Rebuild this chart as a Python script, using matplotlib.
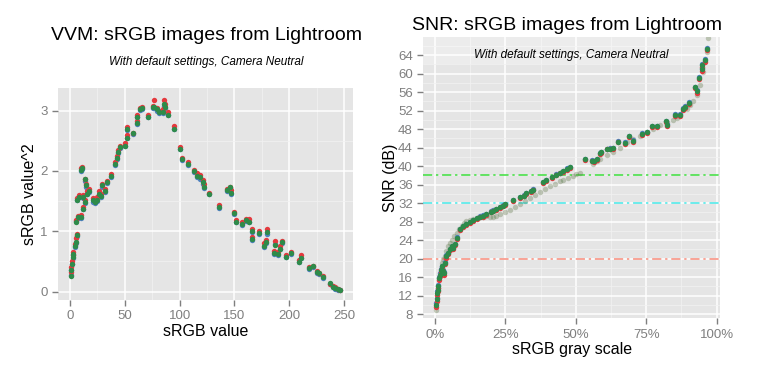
import matplotlib
matplotlib.use("Agg")
import matplotlib.pyplot as plt
from matplotlib.ticker import FuncFormatter, MultipleLocator

plt.rcParams["font.family"] = ["Liberation Sans", "DejaVu Sans"]

# ---- left panel: VVM vs sRGB value ----
vvm_x = [0.6, 0.9, 1.5, 2.4, 3, 4.6, 5.5, 6.1, 5.5, 7.6,
         9.7, 6.7, 8.2, 9.7, 11, 11.6, 12.2, 13.4, 14, 14.6,
         15.8, 17, 20.7, 22.8, 25, 26, 28, 29, 31.7, 34,
         37, 41, 42.6, 43.8, 46, 50, 51.8, 52.4, 57, 61,
         61, 64, 65.8, 71, 75.5, 76.4, 79, 80.7, 84.7, 85.3,
         86.5, 89, 94.4, 99.9, 102, 108, 113, 116, 118.8, 121,
         121.8, 127, 135.8, 143, 145.6, 146.8, 149.8, 151.6, 157, 160.8,
         163, 166, 166.3, 172, 176.6, 178.7, 179.7, 186.4, 187.3, 189.4,
         191.8, 193.4, 196.7, 201.6, 209, 210.7, 217.7, 221.7, 225.3, 227.5,
         230.5, 237, 240, 241.5, 244, 246.6]
vvm_red = [0.33, 0.40, 0.50, 0.60, 0.66, 0.78, 0.88, 0.95, 1.19, 1.26,
           1.27, 1.55, 1.60, 2.04, 2.07, 1.60, 1.40, 1.52, 1.87, 1.79,
           1.66, 1.70, 1.55, 1.53, 1.56, 1.66, 1.62, 1.79, 1.70, 1.84,
           1.95, 2.15, 2.25, 2.35, 2.41, 2.46, 2.60, 2.73, 2.63, 2.83,
           2.92, 3.04, 3.06, 2.92, 3.08, 3.17, 3.05, 3.00, 3.02, 3.18,
           3.10, 2.97, 2.75, 2.40, 2.22, 2.14, 2.01, 1.96, 1.93, 1.85,
           1.78, 1.63, 1.43, 1.70, 1.74, 1.68, 1.32, 1.18, 1.15, 1.21,
           1.20, 1.04, 0.91, 1.00, 0.80, 0.85, 1.04, 0.68, 0.83, 0.65,
           0.76, 0.83, 0.60, 0.66, 0.52, 0.61, 0.41, 0.43, 0.34, 0.31,
           0.25, 0.13, 0.10, 0.08, 0.05, 0.03]
vvm_green = [0.25, 0.35, 0.46, 0.57, 0.62, 0.75, 0.82, 0.93, 1.15, 1.23,
             1.24, 1.51, 1.57, 2.01, 2.05, 1.56, 1.37, 1.48, 1.86, 1.76,
             1.62, 1.67, 1.51, 1.49, 1.52, 1.62, 1.59, 1.76, 1.67, 1.81,
             1.92, 2.11, 2.22, 2.32, 2.39, 2.42, 2.55, 2.69, 2.62, 2.79,
             2.90, 3.02, 3.04, 2.90, 3.06, 3.06, 3.02, 2.97, 2.97, 3.10,
             3.06, 2.93, 2.70, 2.36, 2.19, 2.11, 1.99, 1.92, 1.89, 1.81,
             1.74, 1.62, 1.40, 1.68, 1.73, 1.63, 1.30, 1.16, 1.12, 1.18,
             1.16, 1.01, 0.87, 0.97, 0.76, 0.82, 0.98, 0.64, 0.77, 0.62,
             0.71, 0.82, 0.58, 0.64, 0.49, 0.56, 0.39, 0.42, 0.32, 0.30,
             0.24, 0.14, 0.08, 0.06, 0.04, 0.02]
vvm_blue = [0.27, 0.36, 0.45, 0.56, 0.61, 0.73, 0.81, 0.92, 1.17, 1.22,
            1.22, 1.52, 1.56, 2.00, 2.03, 1.55, 1.36, 1.47, 1.84, 1.74,
            1.61, 1.65, 1.48, 1.47, 1.50, 1.60, 1.57, 1.74, 1.65, 1.80,
            1.90, 2.10, 2.20, 2.30, 2.38, 2.41, 2.54, 2.67, 2.61, 2.78,
            2.89, 3.01, 3.03, 2.89, 3.04, 3.05, 3.00, 2.96, 2.96, 3.08,
            3.04, 2.92, 2.69, 2.36, 2.18, 2.10, 1.98, 1.90, 1.87, 1.79,
            1.72, 1.61, 1.39, 1.67, 1.71, 1.61, 1.29, 1.15, 1.11, 1.17,
            1.15, 0.99, 0.86, 0.96, 0.74, 0.81, 0.96, 0.63, 0.78, 0.61,
            0.70, 0.81, 0.57, 0.63, 0.49, 0.55, 0.38, 0.41, 0.31, 0.29,
            0.23, 0.12, 0.08, 0.05, 0.03, 0.02]

# ---- right panel: SNR vs gray scale ----
snr_x = [0.004, 0.006, 0.008, 0.010, 0.012, 0.015, 0.018, 0.020, 0.024, 0.027,
         0.030, 0.033, 0.036, 0.041, 0.047, 0.053, 0.059, 0.065, 0.071, 0.079,
         0.089, 0.100, 0.112, 0.125, 0.136, 0.150, 0.160, 0.172, 0.183, 0.200,
         0.207, 0.218, 0.230, 0.240, 0.249, 0.278, 0.302, 0.315, 0.325, 0.340,
         0.349, 0.385, 0.395, 0.414, 0.430, 0.444, 0.455, 0.467, 0.479, 0.533,
         0.556, 0.566, 0.576, 0.586, 0.590, 0.610, 0.620, 0.633, 0.651, 0.675,
         0.690, 0.704, 0.734, 0.751, 0.769, 0.789, 0.820, 0.825, 0.852, 0.870,
         0.879, 0.888, 0.903, 0.923, 0.929, 0.938, 0.947, 0.947, 0.959, 0.964]
snr_green = [10.0, 11.2, 12.6, 13.3, 14.0, 15.8, 16.5, 17.6, 18.3, 17.0,
             17.3, 16.8, 19.1, 20.5, 21.2, 22.0, 22.7, 22.3, 23.1, 24.5,
             26.3, 27.0, 27.4, 27.9, 28.3, 28.7, 29.1, 29.3, 29.6, 30.1,
             30.4, 30.7, 31.1, 31.4, 31.8, 32.6, 33.3, 33.6, 34.1, 34.6,
             34.9, 36.5, 36.9, 37.6, 38.1, 38.5, 38.9, 39.4, 39.7, 41.5,
             41.2, 41.0, 41.5, 42.8, 43.0, 43.7, 43.8, 43.9, 45.3, 45.0,
             46.5, 45.5, 47.0, 47.3, 48.6, 48.6, 49.7, 48.9, 51.1, 51.1,
             52.4, 52.8, 53.7, 57.1, 56.2, 59.1, 61.0, 61.8, 62.9, 65.4]
snr_red = [9.6, 10.8, 12.2, 13.0, 13.6, 15.3, 16.2, 17.2, 18.0, 16.6,
           17.0, 16.4, 18.8, 20.1, 21.0, 21.8, 22.5, 22.0, 22.9, 24.3,
           26.1, 26.8, 27.2, 27.7, 28.1, 28.5, 28.9, 29.1, 29.4, 30.0,
           30.3, 30.6, 31.0, 31.3, 31.6, 32.5, 33.1, 33.5, 34.0, 34.5,
           34.8, 36.4, 36.8, 37.5, 38.0, 38.4, 38.8, 39.2, 39.5, 41.4,
           41.1, 40.9, 41.3, 42.6, 42.9, 43.6, 43.7, 43.8, 45.1, 44.8,
           46.3, 45.2, 46.8, 47.1, 48.4, 48.4, 49.5, 48.7, 50.9, 50.9,
           52.2, 52.6, 53.5, 56.9, 55.9, 58.8, 60.6, 61.4, 62.6, 65.1]
snr_blue = [10.3, 11.5, 12.9, 13.6, 14.3, 16.0, 16.8, 17.8, 18.5, 17.2,
            17.5, 17.0, 19.3, 20.7, 21.3, 22.1, 22.8, 22.5, 23.2, 24.6,
            26.4, 27.1, 27.5, 28.0, 28.4, 28.8, 29.2, 29.4, 29.7, 30.2,
            30.5, 30.8, 31.2, 31.5, 31.9, 32.7, 33.4, 33.7, 34.2, 34.7,
            35.0, 36.6, 37.0, 37.7, 38.2, 38.6, 39.0, 39.5, 39.8, 41.6,
            41.3, 41.1, 41.6, 42.9, 43.1, 43.8, 43.9, 44.0, 45.4, 45.1,
            46.6, 45.7, 47.1, 47.4, 48.7, 48.7, 49.8, 49.0, 51.2, 51.2,
            52.5, 52.9, 53.8, 57.2, 56.4, 59.3, 61.3, 62.0, 63.1, 65.6]
# faded (second camera run)
ref_x = [0.004, 0.006, 0.010, 0.015, 0.020, 0.024, 0.030, 0.036, 0.041, 0.047,
         0.053, 0.059, 0.068, 0.077, 0.086, 0.095, 0.104, 0.112, 0.124, 0.136,
         0.148, 0.160, 0.172, 0.183, 0.195, 0.207, 0.218, 0.230, 0.248, 0.266,
         0.284, 0.302, 0.320, 0.337, 0.355, 0.373, 0.390, 0.408, 0.426, 0.444,
         0.456, 0.474, 0.491, 0.500, 0.515, 0.562, 0.574, 0.586, 0.610, 0.633,
         0.657, 0.680, 0.704, 0.728, 0.752, 0.775, 0.799, 0.822, 0.846, 0.858,
         0.870, 0.893, 0.905, 0.917, 0.929, 0.941, 0.950, 0.959, 0.965, 0.970]
ref_snr = [9.0, 11.5, 14.0, 15.8, 16.9, 19.1, 20.0, 20.5, 21.6, 22.7,
           23.4, 24.1, 24.9, 25.6, 26.3, 27.0, 27.6, 28.1, 28.3, 28.5,
           28.7, 28.9, 29.0, 29.2, 29.0, 29.1, 29.3, 29.6, 30.0, 30.5,
           31.1, 31.8, 32.4, 33.2, 33.8, 34.4, 35.0, 35.7, 36.2, 36.8,
           37.1, 37.5, 37.9, 38.2, 38.6, 40.4, 41.0, 41.5, 42.3, 43.0,
           44.0, 45.2, 45.8, 46.6, 47.3, 48.1, 48.8, 49.5, 50.0, 50.3,
           51.0, 52.4, 53.1, 54.0, 55.3, 57.5, 60.4, 62.8, 64.7, 67.6]
snr_ticks = [8, 12, 16, 20, 24, 28, 32, 36, 40, 44, 48, 52, 56, 60, 64]
snr_levels = [38, 32, 20]
level_colors = ["#3DE03D", "#45E8E8", "#F88C7C"]

RED, GREEN, BLUE = "#E4393E", "#2E8B4A", "#4D80C0"
TICK = "#7F7F7F"


def gg_axes(ax):
    ax.set_facecolor("#E5E5E5")
    for s in ax.spines.values():
        s.set_visible(False)
    ax.grid(which="major", color="white", lw=1.1, zorder=0)
    ax.grid(which="minor", color="#F2F2F2", lw=0.5, zorder=0)
    ax.set_axisbelow(True)
    ax.tick_params(which="major", colors=TICK, labelsize=9.5, length=4, width=1)
    ax.tick_params(which="minor", length=0)


fig = plt.figure(figsize=(7.58, 3.69), dpi=100)

# left
ax1 = fig.add_axes([0.0765, 0.187, 0.389, 0.574])
gg_axes(ax1)
for ys, c in [(vvm_blue, BLUE), (vvm_red, RED), (vvm_green, GREEN)]:
    ax1.scatter(vvm_x, ys, s=15, color=c, linewidths=0, zorder=3)
ax1.set_xlim(-11, 258)
ax1.set_ylim(-0.14, 3.37)
ax1.xaxis.set_major_locator(MultipleLocator(50))
ax1.xaxis.set_minor_locator(MultipleLocator(25))
ax1.yaxis.set_major_locator(MultipleLocator(1))
ax1.yaxis.set_minor_locator(MultipleLocator(0.5))
ax1.set_xlabel("sRGB value", fontsize=11.5, labelpad=1)
ax1.set_ylabel("sRGB value^2", fontsize=11.5, labelpad=2)
fig.text(0.272, 0.903, "VVM: sRGB images from Lightroom", fontsize=14,
         ha="center", va="center")
fig.text(0.272, 0.832, "With default settings, Camera Neutral", fontsize=8.5,
         style="italic", ha="center", va="center")

# right
ax2 = fig.add_axes([0.5585, 0.1374, 0.3915, 0.7623])
gg_axes(ax2)
ax2.axhspan(62, 70, color="white", alpha=0.3, lw=0, zorder=1)
for yv, c in zip(snr_levels, level_colors):
    ax2.axhline(yv, color=c, lw=1.1, dashes=(6, 2.5, 1.5, 2.5), zorder=2)
ax2.scatter(ref_x, ref_snr, s=15, color=RED, alpha=0.12, linewidths=0, zorder=3)
ax2.scatter(ref_x, ref_snr, s=15, color=GREEN, alpha=0.25, linewidths=0, zorder=3)
for ys, c in [(snr_blue, BLUE), (snr_red, RED), (snr_green, GREEN)]:
    ax2.scatter(snr_x, ys, s=15, color=c, linewidths=0, zorder=4)
ax2.set_xlim(-0.041, 1.012)
ax2.set_ylim(7.1, 67.9)
ax2.xaxis.set_major_locator(MultipleLocator(0.25))
ax2.xaxis.set_minor_locator(MultipleLocator(0.125))
ax2.xaxis.set_major_formatter(FuncFormatter(lambda v, p: f"{v * 100:.0f}%"))
ax2.set_yticks(snr_ticks)
ax2.yaxis.set_minor_locator(MultipleLocator(2))
ax2.set_xlabel("sRGB gray scale", fontsize=11.5, labelpad=1)
ax2.set_ylabel("SNR (dB)", fontsize=11.5, labelpad=0)
fig.text(0.748, 0.932, "SNR: sRGB images from Lightroom", fontsize=14,
         ha="center", va="center")
ax2.text(0.5, 0.935, "With default settings, Camera Neutral", fontsize=8.5,
         style="italic", ha="center", va="center", transform=ax2.transAxes,
         zorder=5)

fig.savefig("out.png", dpi=100)
